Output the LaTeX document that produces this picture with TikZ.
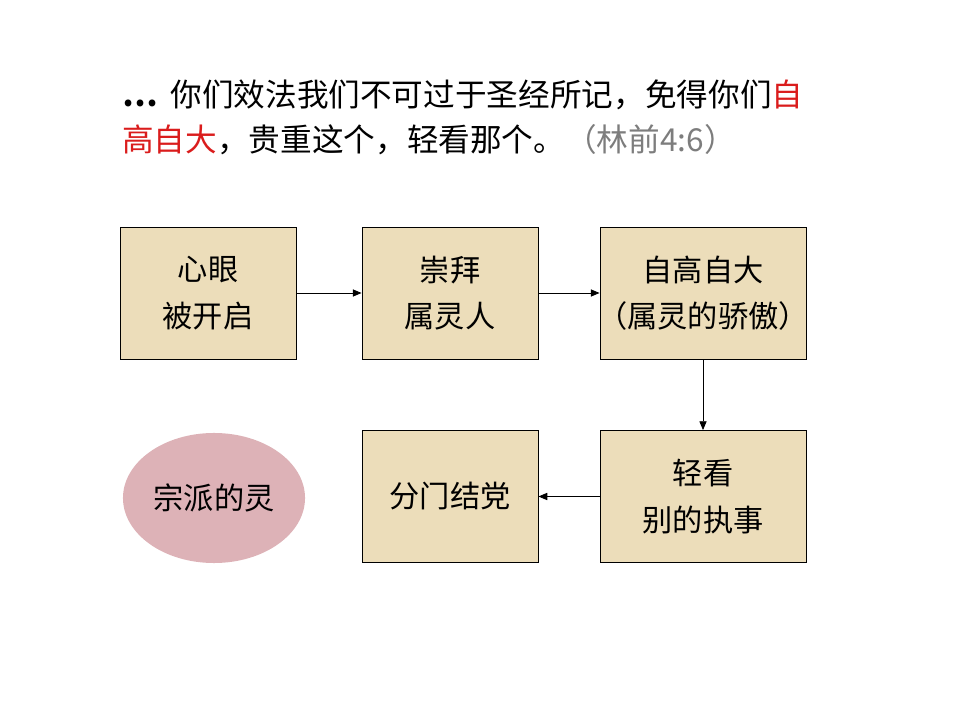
\documentclass[tikz,border=0pt]{standalone}
\usepackage{fontspec}
\setmainfont{Noto Sans CJK SC}
\usetikzlibrary{positioning,arrows.meta,shapes.geometric}
\definecolor{parch}{RGB}{236,221,186}
\definecolor{rosy}{RGB}{221,178,183}
\definecolor{hired}{RGB}{218,28,28}
\definecolor{refgray}{RGB}{125,125,125}

\begin{document}
\begin{tikzpicture}[x=0.025cm,y=-0.025cm,
  txt/.style={font=\fontsize{21.5}{33}\selectfont},
  verse/.style={font=\fontsize{22.5}{33}\selectfont,anchor=west,inner sep=0pt},
  box/.style={txt,draw=black,line width=0.6pt,fill=parch,align=center,
    minimum width=4.4cm,minimum height=3.3cm,inner sep=0pt},
  widebox/.style={box,minimum width=5.15cm},
  blob/.style={txt,ellipse,fill=rosy,minimum width=4.55cm,minimum height=3.25cm,inner sep=0pt},
  flow/.style={-{Triangle[length=2.2mm,width=1.8mm]},line width=0.6pt}]
\useasboundingbox (0,0) rectangle (960,720);
% verse at the top, two lines
\node[verse] (verseA) at (122,95)
  {\textbf{…}\hspace{0.4em}你们效法我们不可过于圣经所记，免得你们\textcolor{hired}{自}};
\node[verse] (verseB) at (122,140)
  {\textcolor{hired}{高自大}，贵重这个，轻看那个。\textcolor{refgray}{（林前4:6）}};
% upper row
\node[box] (eyes) at (208,293) {心眼\\被开启};
\node[box] (worship) at (450,293) {崇拜\\属灵人};
\node[widebox] (pride) at (703,293) {自高自大\\\makebox[5cm]{（属灵的骄傲）}};
% lower row
\node[widebox] (slight) at (703,496.5) {轻看\\别的执事};
\node[box] (faction) at (450,496.5) {分门结党};
\node[blob] (sect) at (214,498) {宗派的灵};
% connectors
\draw[flow] (eyes) -- (worship);
\draw[flow] (worship) -- (pride);
\draw[flow] (pride) -- (slight);
\draw[flow] (slight) -- (faction);
\end{tikzpicture}
\end{document}
